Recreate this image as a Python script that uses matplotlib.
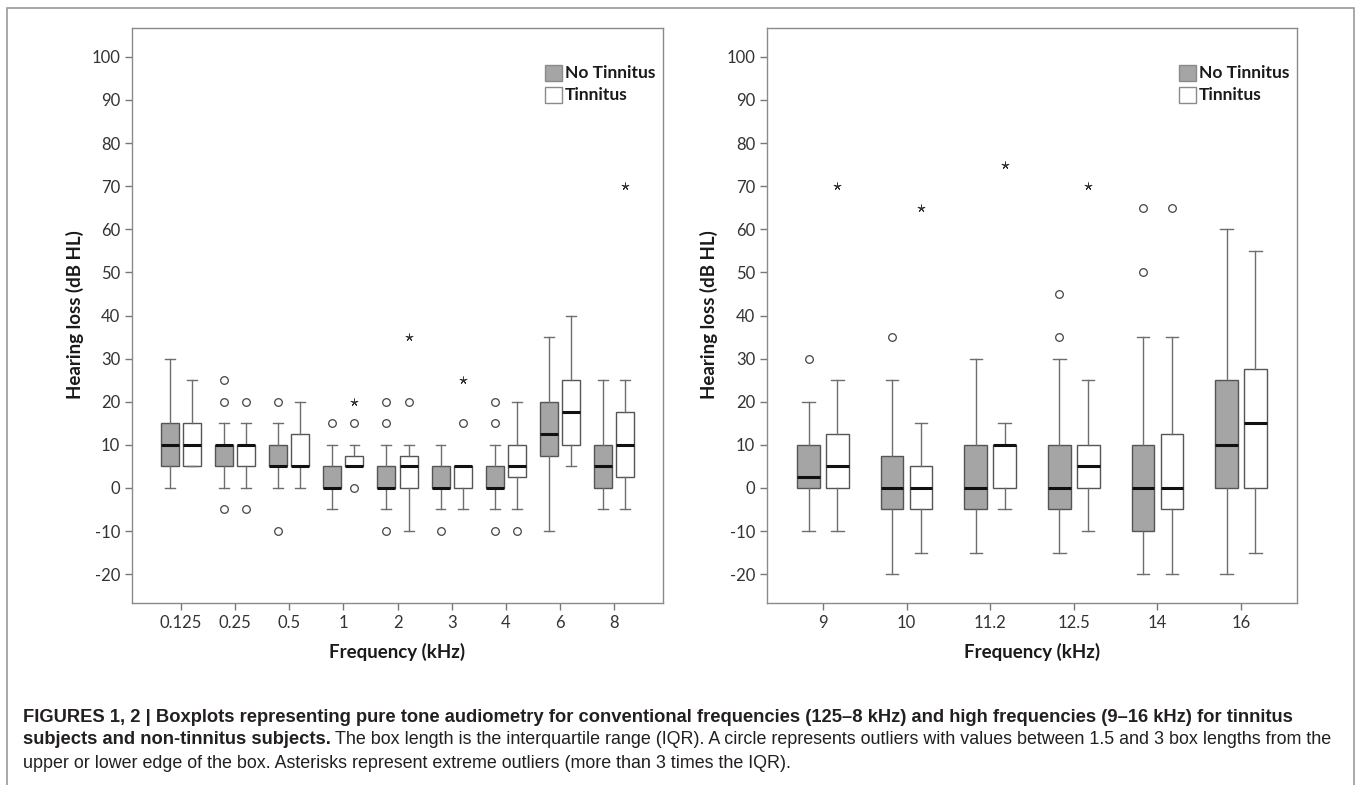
import numpy as np
import matplotlib.pyplot as plt
from matplotlib.patches import Rectangle

W, H = 1357, 785

# Figure 1: conventional frequencies
conv_freqs = ['0.125', '0.25', '0.5', '1', '2', '3', '4', '6', '8']
# (whislo, q1, med, q3, whishi)
conv_no = [(0, 5, 10, 15, 30), (0, 5, 10, 10, 15), (0, 5, 5, 10, 15),
           (-5, 0, 0, 5, 10), (-5, 0, 0, 5, 10), (-5, 0, 0, 5, 10),
           (-5, 0, 0, 5, 10), (-10, 7.5, 12.5, 20, 35), (-5, 0, 5, 10, 25)]
conv_tin = [(5, 5, 10, 15, 25), (0, 5, 10, 10, 15), (0, 5, 5, 12.5, 20),
            (5, 5, 5, 7.5, 10), (-10, 0, 5, 7.5, 10), (-5, 0, 5, 5, 5),
            (-5, 2.5, 5, 10, 20), (5, 10, 17.5, 25, 40), (-5, 2.5, 10, 17.5, 25)]
conv_no_circ = [[], [25, 20, -5], [20, -10], [15], [20, 15, -10], [-10],
                [20, 15, -10], [], []]
conv_tin_circ = [[], [20, -5], [], [15, 0], [20], [15], [-10], [], []]
conv_no_star = [[], [], [], [], [], [], [], [], []]
conv_tin_star = [[], [], [], [20], [35], [25], [], [], [70]]

# Figure 2: high frequencies
hf_freqs = ['9', '10', '11.2', '12.5', '14', '16']
hf_no = [(-10, 0, 2.5, 10, 20), (-20, -5, 0, 7.5, 25), (-15, -5, 0, 10, 30),
         (-15, -5, 0, 10, 30), (-20, -10, 0, 10, 35), (-20, 0, 10, 25, 60)]
hf_tin = [(-10, 0, 5, 12.5, 25), (-15, -5, 0, 5, 15), (-5, 0, 10, 10, 15),
          (-10, 0, 5, 10, 25), (-20, -5, 0, 12.5, 35), (-15, 0, 15, 27.5, 55)]
hf_no_circ = [[30], [35], [], [35, 45], [50, 65], []]
hf_tin_circ = [[], [], [], [], [65], []]
hf_no_star = [[], [], [], [], [], []]
hf_tin_star = [[70], [65], [75], [70], [], []]

groups = ['No Tinnitus', 'Tinnitus']
fills = ['#a5a5a5', 'white']

plt.rcParams['font.family'] = ['Lato', 'DejaVu Sans']
plt.rcParams['axes.unicode_minus'] = False


def px(x, y):
    return x / W, 1 - y / H


def draw_panel(ax, freqs, no, tin, circs, stars, offset, width, xlim):
    pos = np.arange(len(freqs))
    for k, (data, c, s) in enumerate(zip([no, tin], circs, stars)):
        p = pos + (offset if k else -offset)
        stats = [dict(whislo=a, q1=b, med=m, q3=d, whishi=e) for a, b, m, d, e in data]
        ax.bxp(stats, positions=p, widths=width, capwidths=width * 0.55,
               patch_artist=True, showfliers=False,
               boxprops=dict(facecolor=fills[k], edgecolor='#555555', linewidth=1),
               medianprops=dict(color='#111111', linewidth=2.2),
               whiskerprops=dict(color='#6e6e6e', linewidth=1),
               capprops=dict(color='#6e6e6e', linewidth=1))
        for x, vals in zip(p, c):
            ax.plot([x] * len(vals), vals, 'o', mfc='none', mec='#444444',
                    ms=5.5, mew=0.9, zorder=4)
        for x, vals in zip(p, s):
            ax.plot([x] * len(vals), vals, marker=(5, 2, 0), ls='none',
                    color='#333333', ms=5.5, mew=0.7, zorder=4)
    ax.set_xlim(*xlim)
    ax.set_ylim(-26.7, 106.7)
    ax.set_xticks(pos)
    ax.set_xticklabels(freqs)
    ax.set_yticks(np.arange(-20, 101, 10))
    ax.tick_params(direction='out', length=5, width=1, color='#777777',
                   labelcolor='#333333', labelsize=12)
    for sp in ax.spines.values():
        sp.set_color('#8a8a8a')
        sp.set_linewidth(1)
    return ax


fig = plt.figure(figsize=(W / 100, H / 100), dpi=100)

ax1 = fig.add_axes([132 / W, 1 - 603 / H, (663 - 132) / W, (603 - 28) / H])
draw_panel(ax1, conv_freqs, conv_no, conv_tin, [conv_no_circ, conv_tin_circ],
           [conv_no_star, conv_tin_star], 0.205, 0.33, (-0.9, 8.9))
ax2 = fig.add_axes([767 / W, 1 - 603 / H, (1297 - 767) / W, (603 - 28) / H])
draw_panel(ax2, hf_freqs, hf_no, hf_tin, [hf_no_circ, hf_tin_circ],
           [hf_no_star, hf_tin_star], 0.173, 0.27, (-0.67, 5.67))

# legends, axis labels
for right, cx in [(663, 397), (1297, 1032)]:
    for k, g in enumerate(groups):
        y0 = 65 + 22 * k
        x0, y1 = px(right - 118, y0 + 16)
        fig.patches.append(Rectangle((x0, y1), 17 / W, 16 / H, transform=fig.transFigure,
                                     facecolor=fills[k], edgecolor='#8a8a8a', lw=1))
        fig.text(*px(right - 98, y0 + 8), g, fontsize=12.5, fontweight='bold',
                 color='#1a1a1a', va='center', ha='left')
    fig.text(*px(cx, 652), 'Frequency (kHz)', fontsize=13.5, fontweight='bold',
             color='#1a1a1a', ha='center', va='center')
fig.text(*px(75, 315), 'Hearing loss (dB HL)', fontsize=13.5, fontweight='bold',
         color='#1a1a1a', rotation=90, ha='center', va='center')
fig.text(*px(709, 315), 'Hearing loss (dB HL)', fontsize=13.5, fontweight='bold',
         color='#1a1a1a', rotation=90, ha='center', va='center')

# outer frame
fig.patches.append(Rectangle(px(7, 800), 1347 / W, 792 / H, transform=fig.transFigure,
                             facecolor='none', edgecolor='#9a9a9a', lw=1.2))

# caption
cap = dict(family=['Liberation Sans', 'DejaVu Sans'], color='#231f20',
           va='center', ha='left')
fig.text(*px(23, 717), 'FIGURES 1, 2 | Boxplots representing pure tone audiometry for '
         'conventional frequencies (125\u20138 kHz) and high frequencies (9\u201316 kHz) '
         'for tinnitus', fontweight='bold', fontsize=13.2, **cap)
t = fig.text(*px(23, 740), 'subjects and non-tinnitus subjects.', fontweight='bold',
             fontsize=13.2, **cap)
fig.canvas.draw()
bb = t.get_window_extent(fig.canvas.get_renderer())
fig.text(bb.x1 / W + 4 / W, 1 - 740 / H, 'The box length is the interquartile range (IQR). '
         'A circle represents outliers with values between 1.5 and 3 box lengths from the',
         fontsize=12.9, **cap)
fig.text(*px(23, 763), 'upper or lower edge of the box. Asterisks represent extreme outliers '
         '(more than 3 times the IQR).', fontsize=12.9, **cap)

plt.savefig('out.png', dpi=100)
